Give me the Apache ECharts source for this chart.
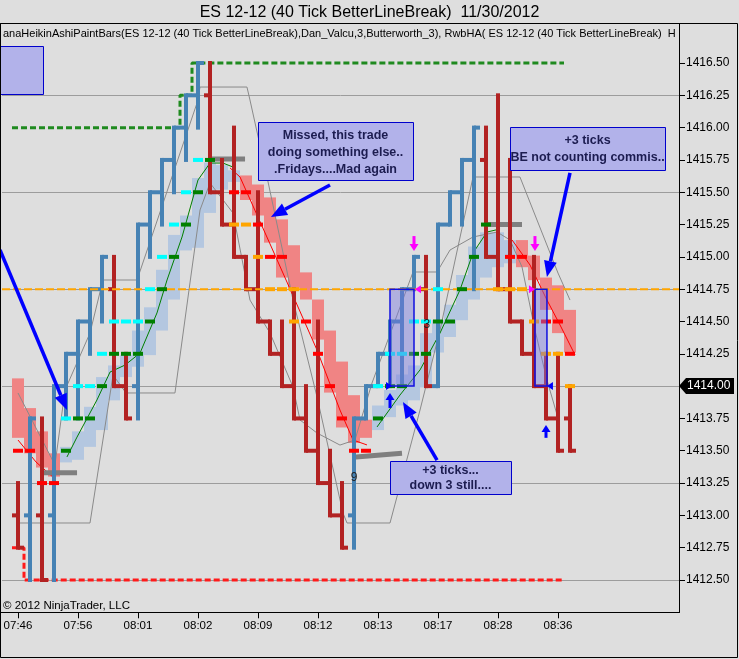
<!DOCTYPE html>
<html><head><meta charset="utf-8">
<script src="https://cdn.jsdelivr.net/npm/echarts@6/dist/echarts.min.js"></script>
<style>html,body{margin:0;padding:0;background:#dedede;}#c{width:739px;height:659px;}</style>
</head><body><div id="c"></div>
<script>
const FONT = '"Liberation Sans", Arial, sans-serif';
// ---- axis data ----
const timeLabels = ['07:46','07:56','08:01','08:02','08:09','08:12','08:13','08:17','08:28','08:36'];
const timeTickIdx = [0,5,10,15,20,25,30,35,40,45];
const priceTicks = [1412.5,1412.75,1413,1413.25,1413.5,1413.75,1414,1414.25,1414.5,1414.75,1415,1415.25,1415.5,1415.75,1416,1416.25,1416.5];
const gridPrices = [1412.5,1413.25,1414,1414.75,1415.5,1416.25];
const orangeLevel = 1414.75;
const lastPrice = 1414.00;
// ---- line break bars ----
const barOpen  = [1413,1413,1413,1413,1414,1414.25,1414.5,1414.75,1414.75,1414,1414,1415.25,1415.5,1415.75,1416,1416.25,1416.25,1415.5,1415.25,1415,1414.75,1414.5,1414.25,1414,1413.75,1413.5,1413.25,1413,1413,1413.75,1414,1414.25,1414.5,1414.75,1414.75,1414,1415.25,1415.5,1415.75,1415.75,1415,1414.75,1414.5,1414.25,1414,1413.75,1413.75];
const barHigh  = [1413.25,1413.75,1413.75,1414,1414.25,1414.5,1414.75,1415,1415,1414.25,1415.25,1415.5,1415.75,1416,1416.25,1416.5,1416.5,1415.75,1416,1415,1415.5,1414.5,1414.5,1414.75,1414,1414.5,1413.5,1413.25,1413.75,1414,1414.25,1414.5,1414.75,1415,1415,1415.25,1415.5,1415.75,1416,1416,1416.25,1415.75,1414.5,1415,1414.25,1414.25,1414];
const barLow   = [1412.75,1412.5,1412.5,1412.5,1413.75,1413.75,1414.25,1414.5,1414,1413.75,1413.75,1415,1415.25,1415.5,1415.75,1416,1415.5,1415.25,1415,1414.75,1414.5,1414.25,1414,1413.75,1413.5,1413.25,1413,1412.75,1412.75,1413.75,1414,1414,1414,1414.75,1414,1414,1415.25,1415.25,1414.75,1415,1414.75,1414.5,1414.25,1414,1413.75,1413.5,1413.5];
const barClose = [1412.75,1413.75,1412.5,1414,1414.25,1414.5,1414.75,1415,1414,1413.75,1415.25,1415.5,1415.75,1416,1416.25,1416.5,1415.5,1415.25,1415,1414.75,1414.5,1414.25,1414,1413.75,1413.5,1413.25,1413,1412.75,1413.75,1414,1414.25,1414.5,1414.75,1415,1414,1415.25,1415.5,1415.75,1416,1415,1414.75,1414.5,1414.25,1414,1413.75,1413.5,1413.5];
// ---- Heikin Ashi paint bars ----
const haTop    = [1414.06,1413.83,1413.65,1413.48,1413.53,1413.65,1413.84,1414.07,1414.16,1414.24,1414.43,1414.61,1414.90,1415.17,1415.32,1415.61,1415.73,1415.71,1415.67,1415.63,1415.56,1415.46,1415.29,1415.09,1414.88,1414.67,1414.43,1414.19,1413.93,1413.74,1413.85,1413.97,1414.09,1414.16,1414.41,1414.51,1414.63,1414.86,1415.08,1415.19,1415.19,1415.13,1415.13,1415.01,1414.84,1414.78,1414.59];
const haBottom = [1413.60,1413.48,1413.37,1413.30,1413.41,1413.43,1413.53,1413.66,1413.89,1414.07,1414.15,1414.24,1414.43,1414.67,1415.05,1415.07,1415.34,1415.52,1415.58,1415.44,1415.32,1415.11,1414.84,1414.76,1414.67,1414.36,1413.95,1413.68,1413.56,1413.60,1413.66,1413.76,1413.85,1413.89,1413.99,1414.26,1414.38,1414.51,1414.67,1414.84,1414.92,1414.95,1414.92,1414.82,1414.59,1414.41,1414.26];
const haUp     = [0,0,0,0,1,1,1,1,1,1,1,1,1,1,1,1,1,1,1,0,0,0,0,0,0,0,0,0,0,0,1,1,1,1,1,1,1,1,1,1,1,1,0,0,0,0,0];
// ---- signal dashes (bar, price, colour code c/g/r/o) ----
const mkBar   = [0,1,2,3, 4,4,5,5,6,6,7,7,8,8,9,9,10,10,11,11,12,12,13,13,14,14,15,15,16,
  18,18,19,19,20,20,21,21,22,22,23,23,24,25,26,27,28,29,
  30,30,31,31,32,32,33,33,34,34,35,35,36,37,38,39,40,41,41,42,42,43,44,44,45,45,46,46];
const mkPrice = [1413.5,1413.5,1413.25,1413.25, 1413.5,1413.75,1413.75,1414,1413.75,1414,1414,1414.25,1414.25,1414.5,1414.25,1414.5,1414.25,1414.5,1414.5,1414.75,1414.75,1415,1415,1415.25,1415.25,1415.5,1415.5,1415.75,1415.75,
  1415.5,1415.25,1415.5,1415.25,1415.25,1415,1415,1414.75,1415,1414.75,1414.75,1414.5,1414.5,1414.25,1414,1413.75,1413.5,1413.5,
  1413.75,1414,1414,1414.25,1414,1414.25,1414.25,1414.5,1414.25,1414.5,1414.5,1414.75,1414.5,1414.75,1415,1415.25,1414.75,1415,1414.75,1415,1414.75,1414.5,1414.5,1414.25,1414.5,1414.25,1414.25,1414];
const mkColor = ['r','r','r','r', 'g','c','g','c','g','c','g','c','g','c','g','c','g','c','g','c','g','c','g','c','g','c','g','c','g',
  'r','o','r','o','r','o','r','o','r','o','o','o','r','r','r','r','r','r',
  'g','c','g','c','g','c','g','c','g','c','g','c','g','g','g','g','o','r','o','r','o','o','r','o','r','o','r','o'];
// ---- thin indicator lines [bar index, price] ----
const greenLine1 = [[4.08,1413.452],[4.92,1413.606],[6.58,1413.893],[7.67,1414.109],[8.92,1414.163],[10.17,1414.256],[11.58,1414.566],[12.42,1414.821],[13.67,1415.154],[15.0,1415.595],[16.0,1415.726],[17.08,1415.726],[17.92,1415.695]];
const greenLine2 = [[29.92,1413.684],[31.83,1413.931],[33.5,1414.125],[35.17,1414.411],[36.83,1414.744],[37.92,1415.03],[39.08,1415.192],[40.17,1415.216]];
const redLine1 = [[0,1413.583],[1.5,1413.413],[3,1413.289]];
const redLine2 = [[17.67,1415.688],[18.5,1415.618],[21.0,1415.10],[23.08,1414.666],[24.92,1414.279],[26.83,1413.815],[27.92,1413.583],[29.08,1413.545]];
const redLine3 = [[41.17,1415.131],[42.67,1414.937],[44.08,1414.666],[45.17,1414.473],[46.42,1414.241]];
const grayLine1 = [[0,1413.947],[3.08,1413.39],[3.92,1413.97],[6.0,1414.411],[7.08,1414.821],[9.92,1414.821],[14.92,1416.191],[15.17,1416.314],[19.08,1416.314],[19.33,1416.214],[20.75,1415.618],[22.92,1414.666],[24.92,1413.916],[27.08,1413.018],[27.42,1412.941],[31.0,1412.941],[33.5,1413.815],[35.17,1414.434],[37.92,1415.618],[41.83,1415.618],[45.0,1414.875],[46.0,1414.666]];
const grayLine2 = [[0.17,1412.941],[6.0,1412.941],[7.92,1414.086],[9.0,1413.947],[13.08,1413.947],[14.33,1414.798],[15.17,1415.363],[16.0,1415.572],[17.92,1415.339],[19.33,1414.666],[21.0,1414.411],[22.92,1413.993],[23.5,1413.738],[24.92,1413.637],[26.83,1413.544],[28.08,1413.583],[29.5,1414.024],[32.92,1414.883],[34.92,1414.883],[36.0,1415.053],[37.92,1415.154],[39.92,1415.192],[41.0,1415.131],[42.0,1414.922],[43.08,1414.434],[44.08,1414.047],[45.0,1413.753]];
const grayBars = [[2.0,1413.33,4.92,1413.33],[16.0,1415.757,18.92,1415.757],[27.92,1413.45,32.0,1413.48],[38.92,1415.25,42.0,1415.25]];
const greenStop = [[-0.5,1416.0],[13.5,1416.0],[13.5,1416.25],[14.5,1416.25],[14.5,1416.5],[45.5,1416.5]];
const redStop = [[-0.5,1412.75],[0.5,1412.75],[0.5,1412.5],[45.5,1412.5]];
// ---- drawings ----
const noteBoxes = [[20.0,1416.04,32.92,1415.595],[41.0,1416.005,53.92,1415.672],[31.0,1413.421,41.08,1413.165],[-1.5,1416.632,2.08,1416.26]];
const noteTexts = [['Missed, this trade','doing something else..','.Fridays....Mad again'],['+3 ticks','BE not counting commis..'],['+3 ticks...','down 3 still....'],[]];
const tradeBoxes = [[31.0,1414.75,33.0,1414.0],[43.08,1414.75,44.08,1414.0]];
const arrows = [[-1.5,1415.053,4.08,1413.815],[26.0,1415.556,21.08,1415.309],[34.92,1413.428,32.08,1413.877],[46.0,1415.649,44.08,1414.844]];
const smallArrows = [[33,1415.161,1415.045,0],[43.08,1415.161,1415.045,0],[31,1413.831,1413.947,1],[44,1413.6,1413.699,1]];
const triangles = [[33.08,33.58,1414.75,0],[43.08,42.58,1414.75,0],[31.17,30.67,1414.0,1],[44.08,44.58,1414.0,1]];
const smallTextIdx = [28,34.08], smallTextPrice = [1413.289,1414.473], smallTexts = ['9','3'];

const MK_COLORS = {c:'#00ffff',g:'#007f00',r:'#ff0000',o:'#ffa500'};
const MK_CODES = ['c','g','r','o'];
const chart = echarts.init(document.getElementById('c'));

function arrowEls(x1,y1,x2,y2,col,lw,hl,hw){
  const dx=x2-x1, dy=y2-y1, L=Math.hypot(dx,dy), ux=dx/L, uy=dy/L;
  const bx=x2-ux*hl, by=y2-uy*hl;
  return [{type:'line',shape:{x1:x1,y1:y1,x2:bx,y2:by},style:{stroke:col,lineWidth:lw}},
    {type:'polygon',shape:{points:[[x2,y2],[bx-uy*hw/2,by+ux*hw/2],[bx+uy*hw/2,by-ux*hw/2]]},style:{fill:col}}];
}
function lineSeries(data,color,width,z,type){
  return {type:'line',data:data,symbol:'none',showSymbol:false,silent:true,z:z,clip:false,
    lineStyle:{color:color,width:width,type:type||'solid'}};
}

const series = [
  {type:'custom',z:1,silent:true,data:gridPrices.map(p=>[0,p]),
   renderItem:(params,api)=>{const cs=params.coordSys;const y=Math.round(api.coord([0,api.value(1)])[1])+0.5;
     return {type:'line',shape:{x1:cs.x,y1:y,x2:cs.x+cs.width,y2:y},style:{stroke:'#9c9c9c',lineWidth:1}};}},
  {type:'custom',z:2,silent:true,data:haTop.map((t,i)=>[i,t,haBottom[i],haUp[i]]),
   renderItem:(params,api)=>{const i=api.value(0);const a=api.coord([i-0.5,api.value(1)]);const b=api.coord([i+0.5,api.value(2)]);
     return {type:'rect',shape:{x:a[0],y:a[1],width:b[0]-a[0],height:b[1]-a[1]},style:{fill:api.value(3)?'#b4c7e0':'#f08484'}};}},
  lineSeries(grayLine1,'#8a8a8a',1,3),
  lineSeries(grayLine2,'#8a8a8a',1,3),
  lineSeries(greenLine1,'#007f00',1,3),
  lineSeries(greenLine2,'#007f00',1,3),
  lineSeries(redLine1,'#ff0000',1,3),
  lineSeries(redLine2,'#ff0000',1,3),
  lineSeries(redLine3,'#ff0000',1,3),
  lineSeries(greenStop,'#1f8a1f',3,3,[6,3]),
  lineSeries(redStop,'#ff1a1a',3,3,[6,3]),
  {type:'custom',z:4,silent:true,data:grayBars,
   renderItem:(params,api)=>{const a=api.coord([api.value(0),api.value(1)]);const b=api.coord([api.value(2),api.value(3)]);
     return {type:'line',shape:{x1:a[0],y1:a[1],x2:b[0],y2:b[1]},style:{stroke:'#7f7f7f',lineWidth:5}};}},
  {type:'custom',z:5,silent:true,data:barOpen.map((o,i)=>[i,o,barHigh[i],barLow[i],barClose[i]]),
   renderItem:(params,api)=>{const i=api.value(0);
     const o=api.coord([i,api.value(1)]),h=api.coord([i,api.value(2)]),l=api.coord([i,api.value(3)]),c=api.coord([i,api.value(4)]);
     const w=api.size([1,0])[0];const col=api.value(4)>api.value(1)?'#4682b4':'#b22222';
     const st={stroke:col,lineWidth:4};
     return {type:'group',children:[
       {type:'line',shape:{x1:h[0],y1:h[1]-2,x2:h[0],y2:l[1]+2},style:st},
       {type:'line',shape:{x1:o[0]-w/2,y1:o[1],x2:o[0],y2:o[1]},style:st},
       {type:'line',shape:{x1:c[0],y1:c[1],x2:c[0]+w/2,y2:c[1]},style:st}]};}},
  {type:'custom',z:6,silent:true,data:[[0,orangeLevel]],
   renderItem:(params,api)=>{const cs=params.coordSys;const y=api.coord([0,api.value(1)])[1];
     return {type:'line',shape:{x1:cs.x,y1:y,x2:cs.x+cs.width,y2:y},style:{stroke:'#ffa500',lineWidth:2,lineDash:[8,3]}};}},
  {type:'custom',z:6,silent:true,data:mkBar.map((b,k)=>[b,mkPrice[k],MK_CODES.indexOf(mkColor[k])]),
   renderItem:(params,api)=>{const i=api.value(0);const a=api.coord([i-0.5,api.value(1)]);const w=api.size([1,0])[0];
     return {type:'rect',shape:{x:a[0]+1,y:a[1]-2,width:w-2,height:4},style:{fill:MK_COLORS[MK_CODES[api.value(2)]]}};}},
  {type:'custom',z:7,silent:true,clip:false,data:tradeBoxes,
   renderItem:(params,api)=>{const a=api.coord([api.value(0),api.value(1)]);const b=api.coord([api.value(2),api.value(3)]);
     return {type:'rect',shape:{x:a[0],y:a[1],width:b[0]-a[0],height:b[1]-a[1]},style:{fill:'rgba(120,120,225,0.45)',stroke:'#1010e0',lineWidth:1.5}};}},
  {type:'custom',z:8,silent:true,clip:false,data:smallArrows,
   renderItem:(params,api)=>{const a=api.coord([api.value(0),api.value(1)]);const b=api.coord([api.value(0),api.value(2)]);
     const col=api.value(3)?'#0000ff':'#ff00ff';
     return {type:'group',children:arrowEls(a[0],a[1],b[0],b[1],col,3,7,9)};}},
  {type:'custom',z:8,silent:true,clip:false,data:triangles,
   renderItem:(params,api)=>{const t=api.coord([api.value(0),api.value(2)]);const b=api.coord([api.value(1),api.value(2)]);
     const col=api.value(3)?'#0000ff':'#ff00ff';
     return {type:'polygon',shape:{points:[[t[0],t[1]],[b[0],b[1]-4],[b[0],b[1]+4]]},style:{fill:col}};}},
  {type:'custom',z:8,silent:true,clip:false,data:smallTextIdx.map((x,k)=>[x,smallTextPrice[k],k]),
   renderItem:(params,api)=>{const p=api.coord([api.value(0),api.value(1)]);
     return {type:'text',style:{text:smallTexts[api.value(2)],x:p[0],y:p[1],align:'center',verticalAlign:'middle',fontSize:12,fontFamily:FONT,fill:'#222'}};}},
  {type:'custom',z:9,silent:true,clip:false,data:arrows,
   renderItem:(params,api)=>{const a=api.coord([api.value(0),api.value(1)]);const b=api.coord([api.value(2),api.value(3)]);
     return {type:'group',children:arrowEls(a[0],a[1],b[0],b[1],'#0000ff',3.5,16,13)};}},
  {type:'custom',z:10,silent:true,clip:false,data:noteBoxes.map((b,k)=>[b[0],b[1],b[2],b[3],k]),
   renderItem:(params,api)=>{const k=api.value(4);const a=api.coord([api.value(0),api.value(1)]);const b=api.coord([api.value(2),api.value(3)]);
     const ch=[{type:'rect',shape:{x:Math.round(a[0])+0.5,y:Math.round(a[1])+0.5,width:Math.round(b[0]-a[0]),height:Math.round(b[1]-a[1])},style:{fill:'#b2b2ea',stroke:'#0000cc',lineWidth:1}}];
     if(noteTexts[k].length){ch.push({type:'text',style:{text:noteTexts[k].join('\n'),x:(a[0]+b[0])/2,y:(a[1]+b[1])/2+1,align:'center',verticalAlign:'middle',fontSize:12.5,fontWeight:'bold',fontFamily:FONT,fill:'#1c1c50',lineHeight:k===2?15:17}});}
     return {type:'group',children:ch};}}
];

const option = {
  backgroundColor:'#dedede',
  animation:false,
  textStyle:{fontFamily:FONT},
  grid:{left:2,right:60,top:30.69,bottom:46.69,outerBoundsMode:'none'},
  xAxis:{type:'value',min:-4/3,max:661/12,splitLine:{show:false},
    axisLine:{onZero:false,lineStyle:{color:'#000',width:1}},
    axisTick:{customValues:timeTickIdx,length:6,lineStyle:{color:'#000'}},
    axisLabel:{customValues:timeTickIdx,formatter:v=>timeLabels[timeTickIdx.indexOf(Math.round(v))]||'',color:'#000',fontSize:11.5,margin:8,fontFamily:FONT}},
  yAxis:{type:'value',position:'right',min:1412.25,max:1416.75,splitLine:{show:false},
    axisLine:{show:true,onZero:false,lineStyle:{color:'#000'}},
    axisTick:{show:true,customValues:priceTicks,length:6,lineStyle:{color:'#000'}},
    axisLabel:{customValues:priceTicks,formatter:v=>v.toFixed(2),color:'#000',fontSize:12,margin:7,fontFamily:FONT}},
  series:series
};
chart.setOption(option);

const lp = chart.convertToPixel({yAxisIndex:0}, lastPrice);
chart.setOption({graphic:[
  {type:'rect',silent:true,z:100,shape:{x:0.5,y:23.5,width:737,height:634},style:{fill:'none',stroke:'#000',lineWidth:1}},
  {type:'rect',silent:true,z:100,shape:{x:0.5,y:23.5,width:679,height:589},style:{fill:'none',stroke:'#000',lineWidth:1}},
  {type:'text',silent:true,z:100,style:{text:'ES 12-12 (40 Tick BetterLineBreak)  11/30/2012',x:369.5,y:13,align:'center',verticalAlign:'middle',fontSize:16,fontFamily:FONT,fill:'#000'}},
  {type:'text',silent:true,z:100,style:{text:'anaHeikinAshiPaintBars(ES 12-12 (40 Tick BetterLineBreak),Dan_Valcu,3,Butterworth_3), RwbHA( ES 12-12 (40 Tick BetterLineBreak)  H',x:3,y:34,align:'left',verticalAlign:'middle',fontSize:11,fontFamily:FONT,fill:'#000'}},
  {type:'text',silent:true,z:100,style:{text:'\u00a9 2012 NinjaTrader, LLC',x:3,y:606,align:'left',verticalAlign:'middle',fontSize:11.5,fontFamily:FONT,fill:'#000'}},
  {type:'polygon',silent:true,z:100,shape:{points:[[679,lp],[686,lp-8],[734,lp-8],[734,lp+8],[686,lp+8]]},style:{fill:'#000'}},
  {type:'text',silent:true,z:101,style:{text:lastPrice.toFixed(2),x:687,y:lp,align:'left',verticalAlign:'middle',fontSize:12,fontFamily:FONT,fill:'#fff'}}
]});
</script></body></html>
